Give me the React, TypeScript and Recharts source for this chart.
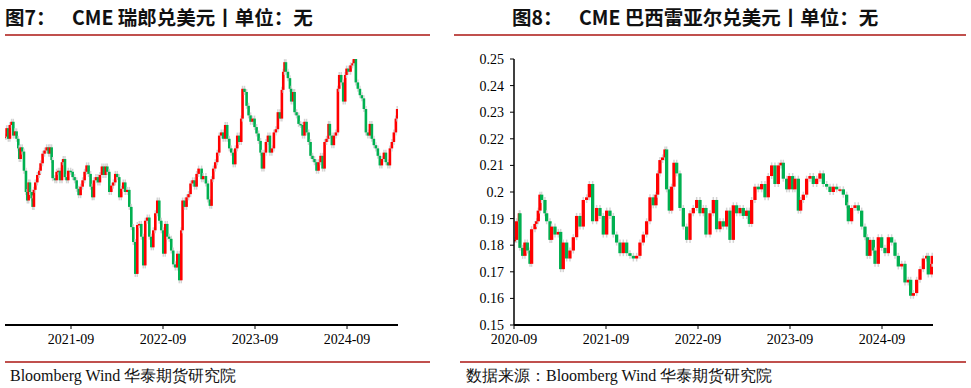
import { ComposedChart, Bar, XAxis, YAxis } from 'recharts';

// months since 2020-09, closes
const chfMonths = [
  3.45, 3.61, 3.83, 4.04, 4.26, 4.48, 4.7, 4.91, 5.13, 5.26,
  5.44, 5.65, 5.87, 6.13, 6.3, 6.48, 6.65, 6.87, 7.0, 7.17,
  7.35, 7.61, 7.87, 8.04, 8.3, 8.56, 8.83, 9.09, 9.26, 9.48,
  9.61, 9.91, 10.13, 10.35, 10.56, 10.83, 11.0, 11.22, 11.43, 11.65,
  11.96, 12.22, 12.48, 12.74, 13.0, 13.26, 13.52, 13.78, 14.04, 14.3,
  14.56, 14.78, 15.0, 15.26, 15.52, 15.78, 16.04, 16.3, 16.56, 16.74,
  17.0, 17.26, 17.52, 17.78, 18.04, 18.3, 18.56, 18.82, 19.08, 19.35,
  19.61, 19.87, 20.13, 20.39, 20.65, 20.91, 21.17, 21.43, 21.69, 21.95,
  22.22, 22.48, 22.74, 23.0, 23.26, 23.52, 23.78, 24.04, 24.3, 24.56,
  24.82, 25.08, 25.34, 25.61, 25.87, 26.13, 26.39, 26.56, 26.82, 27.08,
  27.34, 27.6, 27.87, 28.13, 28.39, 28.65, 29.04, 29.25, 29.6, 29.86,
  30.12, 30.34, 30.56, 30.82, 31.08, 31.34, 31.6, 31.86, 32.12, 32.38,
  32.65, 32.91, 33.17, 33.43, 33.69, 33.95, 34.21, 34.38, 34.64, 34.91,
  35.17, 35.43, 35.69, 35.95, 36.21, 36.47, 36.73, 36.91, 37.17, 37.43,
  37.69, 37.95, 38.21, 38.47, 38.73, 38.99, 39.25, 39.51, 39.69, 39.86,
  40.04, 40.3, 40.56, 40.73, 40.99, 41.17, 41.43, 41.69, 41.95, 42.21,
  42.47, 42.73, 42.99, 43.25, 43.51, 43.77, 44.03, 44.29, 44.56, 44.82,
  45.08, 45.34, 45.6, 45.77, 46.03, 46.29, 46.56, 46.82, 46.99, 47.25,
  47.51, 47.77, 47.95, 48.21, 48.47, 48.73, 48.9, 49.16, 49.42, 49.69,
  49.95, 50.21, 50.47, 50.73, 50.99, 51.25, 51.51, 51.77, 52.03, 52.29,
  52.55, 52.82, 53.08, 53.34, 53.6, 53.86, 54.12, 54.38, 54.55,
];
const chfClose = [
  1.127, 1.135, 1.125, 1.138, 1.141, 1.128, 1.132, 1.125, 1.116, 1.106,
  1.117, 1.113, 1.095, 1.075, 1.067, 1.084, 1.075, 1.069, 1.061, 1.077,
  1.084, 1.091, 1.095, 1.102, 1.111, 1.114, 1.117, 1.111, 1.117, 1.105,
  1.088, 1.086, 1.094, 1.095, 1.086, 1.103, 1.106, 1.089, 1.086, 1.095,
  1.094, 1.089, 1.086, 1.078, 1.072, 1.080, 1.086, 1.094, 1.100, 1.092,
  1.080, 1.070, 1.086, 1.089, 1.084, 1.091, 1.099, 1.091, 1.099, 1.094,
  1.075, 1.081, 1.084, 1.092, 1.089, 1.070, 1.078, 1.084, 1.075, 1.077,
  1.061, 1.042, 1.028, 0.998, 1.044, 1.045, 1.033, 1.006, 1.048, 1.051,
  1.033, 1.023, 1.039, 1.055, 1.067, 1.048, 1.039, 1.017, 1.045, 1.033,
  1.031, 1.020, 1.007, 1.004, 1.017, 0.992, 1.039, 1.067, 1.061, 1.070,
  1.073, 1.083, 1.086, 1.080, 1.092, 1.097, 1.087, 1.090, 1.083, 1.068,
  1.062, 1.087, 1.097, 1.103, 1.112, 1.128, 1.131, 1.125, 1.138, 1.125,
  1.116, 1.112, 1.101, 1.116, 1.128, 1.122, 1.144, 1.172, 1.169, 1.156,
  1.147, 1.141, 1.144, 1.136, 1.130, 1.123, 1.112, 1.097, 1.112, 1.122,
  1.128, 1.112, 1.116, 1.131, 1.134, 1.150, 1.144, 1.171, 1.188, 1.197,
  1.188, 1.182, 1.172, 1.160, 1.169, 1.150, 1.147, 1.139, 1.138, 1.128,
  1.141, 1.131, 1.122, 1.109, 1.106, 1.103, 1.095, 1.103, 1.109, 1.097,
  1.122, 1.125, 1.139, 1.128, 1.119, 1.128, 1.131, 1.172, 1.185, 1.178,
  1.160, 1.185, 1.191, 1.188, 1.194, 1.196, 1.200, 1.178, 1.172, 1.166,
  1.163, 1.153, 1.131, 1.128, 1.139, 1.125, 1.119, 1.116, 1.109, 1.100,
  1.106, 1.112, 1.103, 1.100, 1.116, 1.122, 1.131, 1.144, 1.153,
];

const brlMonths = [
  0.15, 0.35, 0.7, 0.78, 1.13, 1.43, 1.74, 2.09, 2.3, 2.74,
  2.96, 3.17, 3.39, 3.61, 4.04, 4.26, 4.7, 4.91, 5.35, 5.78,
  6.09, 6.43, 6.87, 7.3, 7.74, 8.17, 8.61, 9.04, 9.48, 9.83,
  10.26, 10.78, 11.22, 11.65, 12.09, 12.52, 12.96, 13.39, 13.83, 14.26,
  14.7, 15.13, 15.57, 16.0, 16.43, 16.87, 17.3, 17.74, 18.17, 18.52,
  18.74, 19.04, 19.39, 19.7, 19.91, 20.26, 20.57, 20.87, 21.22, 21.65,
  22.09, 22.52, 22.96, 23.39, 23.83, 24.26, 24.7, 25.04, 25.57, 26.0,
  26.43, 26.87, 27.3, 27.74, 28.17, 28.61, 29.04, 29.48, 29.91, 30.35,
  30.7, 31.0, 31.43, 31.87, 32.3, 32.74, 33.17, 33.61, 34.04, 34.48,
  34.83, 35.13, 35.57, 35.91, 36.35, 36.65, 37.09, 37.39, 37.74, 38.17,
  38.61, 39.04, 39.48, 39.91, 40.35, 40.78, 41.22, 41.65, 42.09, 42.52,
  42.96, 43.39, 43.61, 44.04, 44.48, 44.91, 45.35, 45.78, 46.09, 46.43,
  46.87, 47.09, 47.52, 47.96, 48.39, 48.83, 49.26, 49.7, 50.13, 50.57,
  51.0, 51.43, 51.74, 52.09, 52.52, 52.96, 53.39, 53.83, 54.04, 54.48,
  54.55,
];
const brlClose = [
  0.182, 0.189, 0.192, 0.179, 0.176, 0.181, 0.178, 0.173, 0.186, 0.188,
  0.189, 0.193, 0.199, 0.197, 0.192, 0.189, 0.182, 0.187, 0.184, 0.185,
  0.171, 0.181, 0.175, 0.178, 0.183, 0.191, 0.187, 0.197, 0.198, 0.203,
  0.189, 0.194, 0.191, 0.184, 0.193, 0.191, 0.184, 0.181, 0.177, 0.181,
  0.177, 0.176, 0.175, 0.176, 0.181, 0.184, 0.189, 0.198, 0.195, 0.199,
  0.207, 0.212, 0.213, 0.216, 0.201, 0.193, 0.202, 0.211, 0.207, 0.194,
  0.187, 0.182, 0.192, 0.194, 0.197, 0.192, 0.194, 0.184, 0.192, 0.197,
  0.186, 0.189, 0.187, 0.193, 0.182, 0.195, 0.192, 0.194, 0.191, 0.193,
  0.188, 0.197, 0.202, 0.201, 0.203, 0.198, 0.206, 0.210, 0.203, 0.210,
  0.211, 0.205, 0.201, 0.206, 0.201, 0.205, 0.193, 0.197, 0.199, 0.205,
  0.206, 0.203, 0.205, 0.207, 0.203, 0.202, 0.200, 0.202, 0.201, 0.201,
  0.199, 0.195, 0.189, 0.194, 0.195, 0.193, 0.187, 0.183, 0.176, 0.182,
  0.178, 0.173, 0.183, 0.179, 0.177, 0.183, 0.181, 0.176, 0.172, 0.173,
  0.166, 0.167, 0.161, 0.162, 0.167, 0.171, 0.175, 0.176, 0.169, 0.173,
  0.176,
];

const chfTicks = [12, 24, 36, 48];
const chfTickLabels = ['2021-09', '2022-09', '2023-09', '2024-09'];
const brlTicks = [0, 12, 24, 36, 48];
const brlTickLabels = ['2020-09', '2021-09', '2022-09', '2023-09', '2024-09'];
const brlYTicks = [0.15, 0.16, 0.17, 0.18, 0.19, 0.2, 0.21, 0.22, 0.23, 0.24, 0.25];

const UP = '#ff0000';
const DOWN = '#00b050';
const SERIF = '"Liberation Serif", "Times New Roman", serif';
const CJK = '"Noto Sans CJK SC", "Noto Sans", sans-serif';
const RULE = '#c0504d';

function toCandles(months: number[], closes: number[]) {
  return closes.map((c, i) => {
    const o = i === 0 ? c : closes[i - 1];
    return { m: months[i], body: [Math.min(o, c), Math.max(o, c)], up: c >= o };
  });
}

// candle body of fixed width with a light grey wick shadow behind it
const makeCandle = (w: number) => (props: any) => {
  const { x, y, width, height, payload } = props;
  if (x == null || y == null) return null;
  const cx = x + width / 2;
  return (
    <g>
      <line x1={cx} x2={cx} y1={y - 3} y2={y + height + 3} stroke="#d4d4d4" strokeWidth={1.5} />
      <rect x={cx - w / 2} y={y} width={w} height={Math.max(height, 1.5)} fill={payload.up ? UP : DOWN} />
    </g>
  );
};
const ChfCandle = makeCandle(2.6);
const BrlCandle = makeCandle(3.3);

const tickStyle = { fontFamily: SERIF, fontSize: 14, fill: '#000' };

function Title({ left, num, text }: { left: number; num: string; text: string }) {
  return (
    <div style={{ position: 'absolute', top: 2, left, fontFamily: CJK, fontWeight: 700, fontSize: 19.5, color: '#111', whiteSpace: 'nowrap' }}>
      <span>{num}</span>
      <span style={{ position: 'absolute', left: 67 }}>{text}</span>
    </div>
  );
}

function Rule({ left, top, width }: { left: number; top: number; width: number }) {
  return <div style={{ position: 'absolute', left, top, width, height: 2, background: RULE }} />;
}

export default function App() {
  const chf = toCandles(chfMonths, chfClose);
  const brl = toCandles(brlMonths, brlClose);
  return (
    <div style={{ position: 'absolute', left: 0, top: 0, width: 971, height: 388, background: '#fff', overflow: 'hidden' }}>
      <Title left={5} num="图7：" text="CME 瑞郎兑美元丨单位：无" />
      <Title left={512} num="图8：" text="CME 巴西雷亚尔兑美元丨单位：无" />
      <Rule left={5} top={34} width={425} />
      <Rule left={454} top={34} width={512} />

      <div style={{ position: 'absolute', left: 0, top: 40 }}>
        <ComposedChart width={420} height={320} data={chf} margin={{ top: 19, right: 22, left: 5, bottom: 0 }}>
          <XAxis
            dataKey="m"
            type="number"
            height={35}
            domain={[3.39, 54.65]}
            allowDataOverflow
            ticks={chfTicks}
            tickFormatter={(v) => chfTickLabels[chfTicks.indexOf(v)]}
            axisLine={{ stroke: '#000', strokeWidth: 2 }}
            tickLine={{ stroke: '#000' }}
            tickSize={4}
            tickMargin={5}
            tick={tickStyle}
            interval={0}
          />
          <YAxis hide domain={[0.95, 1.2]} allowDataOverflow />
          <Bar dataKey="body" barSize={2} shape={ChfCandle} isAnimationActive={false} />
        </ComposedChart>
      </div>

      <div style={{ position: 'absolute', left: 470, top: 40 }}>
        <ComposedChart width={480} height={320} data={brl} margin={{ top: 19, right: 17, left: 8, bottom: 0 }}>
          <XAxis
            dataKey="m"
            type="number"
            height={35}
            domain={[0, 54.65]}
            allowDataOverflow
            ticks={brlTicks}
            tickFormatter={(v) => brlTickLabels[brlTicks.indexOf(v)]}
            axisLine={{ stroke: '#000', strokeWidth: 2 }}
            tickLine={{ stroke: '#000' }}
            tickSize={4}
            tickMargin={5}
            tick={tickStyle}
            interval={0}
          />
          <YAxis
            width={36}
            domain={[0.15, 0.25]}
            ticks={brlYTicks}
            tickFormatter={(v) => String(Number(v.toFixed(2)))}
            axisLine={{ stroke: '#000', strokeWidth: 1.5 }}
            tickLine={{ stroke: '#000' }}
            tickSize={4}
            tickMargin={6}
            tick={tickStyle}
            interval={0}
          />
          <Bar dataKey="body" barSize={3} shape={BrlCandle} isAnimationActive={false} />
        </ComposedChart>
      </div>

      <Rule left={5} top={361} width={425} />
      <Rule left={460} top={361} width={506} />
      <div style={{ position: 'absolute', left: 10, top: 366, fontFamily: SERIF, fontSize: 16, color: '#111', whiteSpace: 'nowrap' }}>
        Bloomberg Wind 华泰期货研究院
      </div>
      <div style={{ position: 'absolute', left: 466, top: 366, fontFamily: SERIF, fontSize: 16, color: '#111', whiteSpace: 'nowrap' }}>
        数据来源：Bloomberg Wind 华泰期货研究院
      </div>
    </div>
  );
}
